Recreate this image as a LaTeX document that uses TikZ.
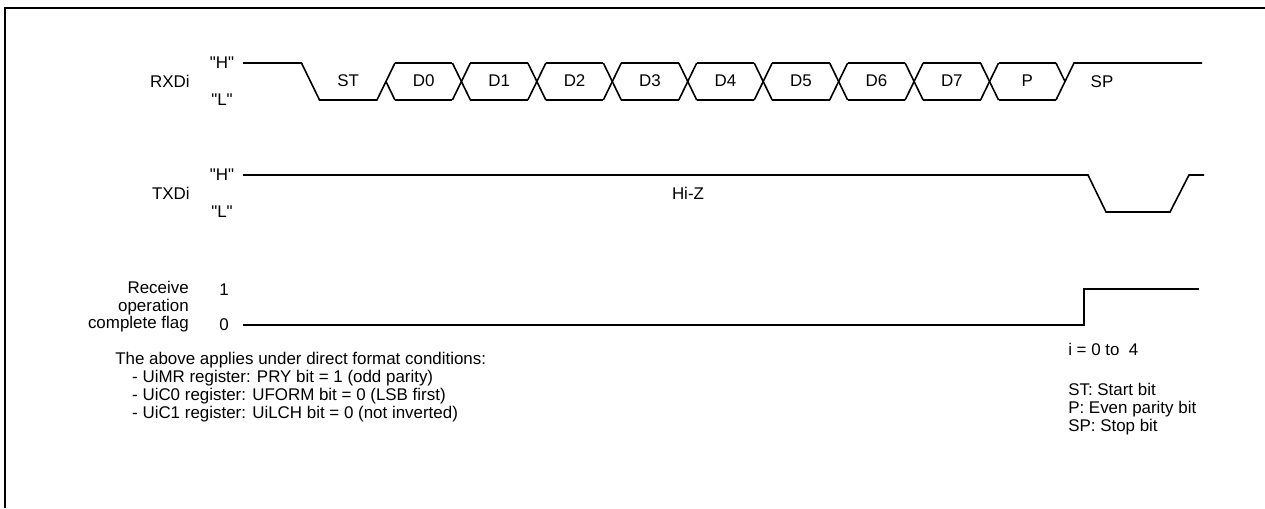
\documentclass[tikz,border=0pt]{standalone}
\usepackage{fontspec}
\setmainfont{Liberation Sans}
\newcommand\qt[1]{\textquotedbl#1\textquotedbl}
\begin{document}
\begin{tikzpicture}[x=0.75pt,y=-0.75pt,
  wave/.style={line width=1.2pt,line join=miter},
  lbl/.style={inner sep=0pt,font=\fontsize{12.7}{13.2}\selectfont},
  frameline/.style={line width=2pt}]
\useasboundingbox (0,0) rectangle (1265,508);
\draw[frameline] (5,508) -- (5,8) -- (1265,8);
% RXDi
\def\H{63}\def\L{100}\def\M{81.5}\def\h{9}
\pgfmathsetmacro{\cz}{310.5}
\def\per{75.45}
\node[lbl,anchor=east] (rxd) at (190,81) {RXDi};
\node[lbl] (rxh) at (222,63) {\qt{H}};
\node[lbl] (rxl) at (222,100) {\qt{L}};
\draw[wave] (243,\H) -- ({\cz-\h},\H) -- ({\cz+\h},\L) -- ({\cz+\per-\h},\L) -- ({\cz+\per+\h},\H);
\draw[wave] ({\cz+\per},\M) -- ({\cz+\per+\h},\L);
\foreach \k in {1,...,9}{
  \draw[wave] ({\cz+\k*\per+\h},\H) -- ({\cz+(\k+1)*\per-\h},\H);
  \draw[wave] ({\cz+\k*\per+\h},\L) -- ({\cz+(\k+1)*\per-\h},\L);
}
\foreach \k in {2,...,9}{
  \draw[wave] ({\cz+\k*\per-\h},\H) -- ({\cz+\k*\per+\h},\L);
  \draw[wave] ({\cz+\k*\per-\h},\L) -- ({\cz+\k*\per+\h},\H);
}
\draw[wave] ({\cz+10*\per-\h},\L) -- ({\cz+10*\per+\h},\H) -- (1202,\H);
\draw[wave] ({\cz+10*\per-\h},\H) -- ({\cz+10*\per},\M);
\node[lbl] (st) at ({\cz+0.5*\per},81) {ST};
\foreach \t [count=\i] in {D0,D1,D2,D3,D4,D5,D6,D7,P}{
  \node[lbl] (b\i) at ({\cz+(\i+0.5)*\per},81) {\t};
}
\node[lbl] (sp) at (1102,82) {SP};
% TXDi
\node[lbl,anchor=east] (txd) at (190,193) {TXDi};
\node[lbl] (txh) at (222,175) {\qt{H}};
\node[lbl] (txl) at (222,212) {\qt{L}};
\draw[wave] (243,175) -- (1088,175) -- (1106,212) -- (1170,212) -- (1189,175) -- (1204,175);
\node[lbl] (hiz) at (688,193) {Hi-Z};
% flag
\node[lbl,anchor=east,align=right] (flag) at (189,307) {Receive\\operation\\complete flag};
\node[lbl] (f1) at (224,290) {1};
\node[lbl] (f0) at (224,325) {0};
\draw[wave] (243,325) -- (1084,325) -- (1084,289) -- (1199,289);
% notes
\node[lbl,anchor=north west,align=left,font=\fontsize{12.7}{13.6}\selectfont] (note) at (115,352) {The above applies under direct format conditions:\\
\hspace{1em}- UiMR register: PRY bit = 1 (odd parity)\\
\hspace{1em}- UiC0 register: UFORM bit = 0 (LSB first)\\
\hspace{1em}- UiC1 register: UiLCH bit = 0 (not inverted)};
\node[lbl,anchor=west] (irange) at (1068,349) {i = 0 to \ 4};
\node[lbl,anchor=north west,align=left,font=\fontsize{12.7}{13.6}\selectfont] (legend) at (1068,383) {ST: Start bit\\P: Even parity bit\\SP: Stop bit};
\end{tikzpicture}
\end{document}
